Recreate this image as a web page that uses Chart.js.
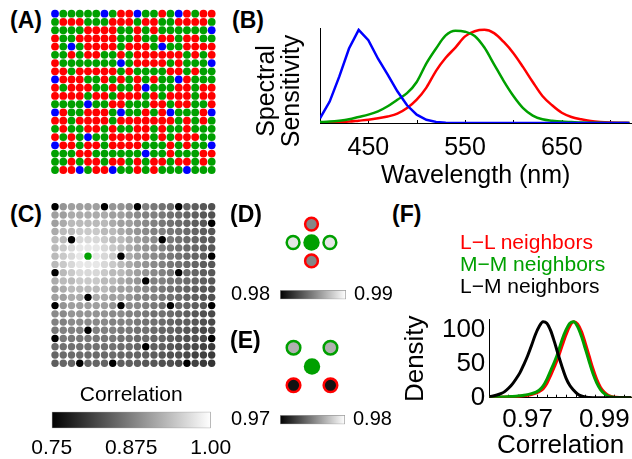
<!DOCTYPE html>
<html>
<head>
<meta charset="utf-8">
<script src="https://cdn.jsdelivr.net/npm/chart.js@4.4.1/dist/chart.umd.min.js"></script>
<style>
  html, body { margin: 0; padding: 0; background: #fff; }
  body { position: relative; width: 632px; height: 459px; overflow: hidden; font-family: 'Liberation Sans', Arial, sans-serif; color: #000; }
  canvas { position: absolute; }
  .panel { position: absolute; font-weight: bold; font-size: 23px; line-height: 23px; white-space: nowrap; }
  #bYTitle { position: absolute; left: 207.5px; top: 66px; width: 140px; height: 50px; font-size: 25px; line-height: 25px; text-align: center; transform: rotate(-90deg); white-space: nowrap; }
  #fLegend { position: absolute; left: 460px; top: 231px; font-size: 21px; line-height: 22px; white-space: nowrap; }
</style>
</head>
<body>
<canvas id="aMosaic" width="176" height="176" style="left:45px; top:4px"></canvas>
<canvas id="bChart" width="345" height="200" style="left:300px; top:0px"></canvas>
<canvas id="cMosaic" width="176" height="176" style="left:45px; top:197px"></canvas>
<canvas id="cBar" width="223" height="79" style="left:20px; top:380px"></canvas>
<canvas id="dDots" width="73" height="73" style="left:275px; top:206px"></canvas>
<canvas id="dBar" width="190" height="53" style="left:225px; top:268px"></canvas>
<canvas id="eDots" width="74" height="75" style="left:275px; top:329px"></canvas>
<canvas id="eBar" width="190" height="53" style="left:225px; top:393px"></canvas>
<canvas id="fChart" width="250" height="159" style="left:395px; top:300px"></canvas>

<div class="panel" style="left:10px; top:8.5px">(A)</div>
<div class="panel" style="left:232px; top:8.5px">(B)</div>
<div class="panel" style="left:10px; top:202.5px">(C)</div>
<div class="panel" style="left:230px; top:202.5px">(D)</div>
<div class="panel" style="left:230px; top:328.5px">(E)</div>
<div class="panel" style="left:392px; top:202.5px">(F)</div>
<div id="bYTitle">Spectral<br>Sensitivity</div>
<div id="fLegend">
  <div style="color:#ff0000">L−L neighbors</div>
  <div style="color:#00a000">M−M neighbors</div>
  <div style="color:#000000">L−M neighbors</div>
</div>

<script>
// cone mosaic (A), L = red, M = green, S = blue
const mosaicRows = [
  'SMMMMMSMLLSMMLMSLMLL',
  'MLLLMMMLLLMLLMMLLLLM',
  'MMMMLLLLMMLMLMMMMMMS',
  'LMMLLLLLMMLMMLLMLLMM',
  'LMSMLLLLMLLLMSMMLLLL',
  'MMLMLLMMLMLLLLLLMLML',
  'LMMMMMMMSMLLLLMLMMMS',
  'LLMLLLLLMLMMMMLLMLMM',
  'SLLLMMLMLMLMLMMSLMMM',
  'LMLLLMMLMMLSMMMLLMLL',
  'LLLLMLLMLLLMLMLLLMLL',
  'MMMMSMMLLMMMLLMLLMML',
  'SLMMLLLMSMMLMLSMMMLS',
  'LLMLLLLMLLLLLLLMLMLM',
  'MLMMLLMLMMLLMLMMLMMM',
  'LMLMSMMLLLLLMLMLLLMM',
  'SLLMLLMLLLLMMMLMLMMS',
  'MMMLLMMMMMMSMMLMMMLL',
  'MMLMLLMLLMLMLLMLLMLM',
  'MLLSMLLSMMLMLMMMSMMM'
];

// spectral sensitivity (B)
const bWavelength = [400, 410, 420, 430, 440, 450, 460, 470, 480, 490, 500, 510, 520, 530, 540, 550, 560,
  570, 580, 590, 600, 610, 620, 630, 640, 650, 660, 670, 680, 690, 700, 710, 720];
const bS = [0.05, 0.23, 0.50, 0.80, 1.00, 0.89, 0.69, 0.52, 0.34, 0.19, 0.09, 0.035, 0.012, 0.004, 0, 0, 0,
  0, 0, 0, 0, 0, 0, 0, 0, 0, 0, 0, 0, 0, 0, 0, 0];
const bM = [0.01, 0.015, 0.025, 0.04, 0.065, 0.09, 0.125, 0.18, 0.25, 0.32, 0.44, 0.64, 0.80, 0.94, 0.99, 0.98, 0.935,
  0.81, 0.63, 0.45, 0.29, 0.16, 0.08, 0.04, 0.025, 0.015, 0.01, 0.005, 0.003, 0.002, 0.001, 0, 0];
const bL = [0.003, 0.005, 0.01, 0.015, 0.025, 0.035, 0.05, 0.07, 0.10, 0.16, 0.25, 0.38, 0.56, 0.70, 0.81, 0.93, 0.985,
  1.0, 0.965, 0.87, 0.75, 0.60, 0.44, 0.29, 0.19, 0.11, 0.065, 0.04, 0.022, 0.012, 0.006, 0.003, 0.001];
const bTickValues = [450, 550, 650];
const bTickMarks = [400, 450, 500, 550, 600, 650, 700];

// correlation map (C): centre cone and correlation by distance (in cones) from it
const centerCone = { row: 6, col: 4 };
const corrByDist = [1.0, 0.976, 0.962, 0.947, 0.932, 0.918, 0.906, 0.895, 0.885, 0.876, 0.868,
  0.861, 0.855, 0.849, 0.842, 0.835, 0.828, 0.821, 0.814, 0.807, 0.801];
const corrRange = [0.75, 1.0];
const corrTicks = [0.75, 0.875, 1.0];
const corrTickLabels = ['0.75', '0.875', '1.00'];

// neighbour examples (D) and (E)
const dNbrX = [0, 0, -1, 1];
const dNbrY = [1, -1, 0, 0];
const dNbrType = ['L', 'L', 'M', 'M'];
const dNbrCorr = [0.9853, 0.9852, 0.9890, 0.9890];
const dRange = [0.98, 0.99];
const dRangeLabels = ['0.98', '0.99'];

const eNbrX = [-1, 1, -1, 1];
const eNbrY = [1, 1, -1, -1];
const eNbrType = ['M', 'M', 'L', 'L'];
const eNbrCorr = [0.9769, 0.9769, 0.9707, 0.9707];
const eRange = [0.97, 0.98];
const eRangeLabels = ['0.97', '0.98'];

// correlation densities (F)
const fCorr = [0.960, 0.961, 0.962, 0.963, 0.964, 0.965, 0.966, 0.967, 0.968, 0.969, 0.970, 0.971, 0.972,
  0.973, 0.974, 0.975, 0.976, 0.977, 0.978, 0.979, 0.980, 0.981, 0.982, 0.983, 0.984, 0.985, 0.986,
  0.987, 0.988, 0.989, 0.990, 0.991, 0.992, 0.993, 0.994, 0.995, 0.996, 0.997];
const fLM = [1.5, 2.5, 4, 6, 9, 14, 20, 28, 37, 49, 62, 77, 93, 105, 112, 110, 99, 82, 63, 45, 29, 18, 11,
  5.5, 2.5, 1, 0.4, 0.1, 0, 0, 0, 0, 0, 0, 0, 0, 0, 0];
const fMM = [0.5, 0.6, 0.8, 1, 1.2, 1.5, 1.8, 2.2, 2.8, 3.5, 4.5, 6, 8, 11, 17, 27, 40, 53, 68, 86, 100, 110,
  112, 105, 91, 73, 54, 36, 22, 12, 6, 2.5, 1, 0.4, 0.1, 0, 0, 0];
const fLL = [0.3, 0.4, 0.5, 0.7, 0.9, 1.1, 1.4, 1.7, 2.2, 2.8, 3.6, 4.8, 6.5, 9, 13, 21, 33, 46, 60, 77, 93, 106,
  112, 109, 98, 81, 62, 43, 27, 15, 8, 3.5, 1.5, 0.6, 0.2, 0, 0, 0];
const fTickValues = [0.97, 0.99];
const fDensityTicks = [0, 50, 100];
const fTickMarks = [0.9625, 0.965, 0.9675, 0.97, 0.9725, 0.975, 0.9775, 0.98, 0.9825, 0.985, 0.9875, 0.99, 0.9925, 0.995];

const coneColors = { L: '#ff0000', M: '#00a000', S: '#0000ff' };

Chart.defaults.font.family = "'Liberation Sans', Arial, sans-serif";
Chart.defaults.color = '#000';
Chart.defaults.animation = false;
Chart.defaults.events = [];
Chart.defaults.plugins.legend.display = false;
Chart.defaults.plugins.tooltip.enabled = false;

// small tick marks pointing up from the x axis
const innerTicks = {
    id: 'innerTicks',
    beforeDatasetsDraw(chart, args, opts) {
        const xs = chart.scales.x;
        const c = chart.ctx;
        c.save();
        c.strokeStyle = '#000';
        c.lineWidth = 1;
        opts.values.forEach(function(v) {
            const px = Math.round(xs.getPixelForValue(v)) + 0.5;
            c.beginPath();
            c.moveTo(px, xs.top);
            c.lineTo(px, xs.top - opts.len);
            c.stroke();
        });
        c.restore();
    }
};

function grayFor(v, lo, hi) {
    const t = Math.max(0, Math.min(1, (v - lo) / (hi - lo)));
    const g = Math.round(255 * t);
    return 'rgb(' + g + ',' + g + ',' + g + ')';
}

function grayGradient(context) {
    const area = context.chart.chartArea;
    if (!area) return '#888';
    const g = context.chart.ctx.createLinearGradient(area.left, 0, area.right, 0);
    g.addColorStop(0, '#000');
    g.addColorStop(1, '#fff');
    return g;
}

function mosaicChart(id, colors, radius, pad) {
    const pts = [];
    for (let r = 0; r < mosaicRows.length; r++) {
        for (let c = 0; c < mosaicRows[r].length; c++) pts.push({ x: c, y: r });
    }
    return new Chart(document.getElementById(id), {
        type: 'scatter',
        data: { datasets: [{ data: pts, pointRadius: radius, pointBorderWidth: 0, pointBackgroundColor: colors, clip: false }] },
        options: {
            responsive: false,
            layout: { padding: pad },
            scales: {
                x: { display: false, min: -0.5, max: mosaicRows[0].length - 0.5 },
                y: { display: false, min: -0.5, max: mosaicRows.length - 0.5, reverse: true }
            }
        }
    });
}

// (A) mosaic
const aColors = [];
mosaicRows.forEach(function(row) {
    for (const t of row) aColors.push(coneColors[t]);
});
mosaicChart('aMosaic', aColors, 3.9, { left: 5.9, top: 5.6, right: 5.2, bottom: 5.9 });

// (C) correlation with the centre M cone
const cColors = [];
mosaicRows.forEach(function(row, r) {
    for (let c = 0; c < row.length; c++) {
        if (r === centerCone.row && c === centerCone.col) {
            cColors.push(coneColors.M);
        } else if (row[c] === 'S') {
            cColors.push('#000');
        } else {
            const d = Math.min(Math.round(Math.hypot(r - centerCone.row, c - centerCone.col)), corrByDist.length - 1);
            cColors.push(grayFor(corrByDist[d], corrRange[0], corrRange[1]));
        }
    }
});
mosaicChart('cMosaic', cColors, 3.7, { left: 5.9, top: 5.6, right: 5.2, bottom: 5.6 });

// (C) colour bar
new Chart(document.getElementById('cBar'), {
    type: 'bar',
    data: {
        labels: ['corr'],
        datasets: [{
            data: [[corrRange[0], corrRange[1]]],
            backgroundColor: grayGradient,
            borderColor: '#9a9a9a',
            borderWidth: 1,
            borderSkipped: false,
            barPercentage: 1,
            categoryPercentage: 1
        }]
    },
    options: {
        indexAxis: 'y',
        responsive: false,
        layout: { padding: { left: 31.7, right: 32.3, top: 5, bottom: 0.5 } },
        plugins: {
            title: { display: true, text: 'Correlation', font: { size: 21, weight: 'normal', lineHeight: 1 }, padding: { top: 0, bottom: 5.7 } }
        },
        scales: {
            x: {
                min: corrRange[0], max: corrRange[1],
                afterBuildTicks: function(s) { s.ticks = corrTicks.map(function(v) { return { value: v }; }); },
                afterFit: function(s) { s.height = 30.2; },
                ticks: {
                    callback: function(v, i) { return corrTickLabels[i]; },
                    font: { size: 21, lineHeight: 1 }, padding: 9.2, maxRotation: 0, autoSkip: false
                },
                grid: { display: false, drawTicks: false },
                border: { display: false }
            },
            y: { display: false }
        }
    }
});

// (D) and (E) neighbour diagrams
function neighbourChart(id, xs, ys, types, corrs, range, nbrRadius, pad) {
    const pts = xs.map(function(x, i) { return { x: x, y: ys[i] }; });
    return new Chart(document.getElementById(id), {
        type: 'scatter',
        data: {
            datasets: [{
                data: pts,
                pointRadius: nbrRadius,
                pointBorderWidth: 2.5,
                pointBorderColor: types.map(function(t) { return coneColors[t]; }),
                pointBackgroundColor: corrs.map(function(v) { return grayFor(v, range[0], range[1]); }),
                clip: false
            }, {
                data: [{ x: 0, y: 0 }],
                pointRadius: 8.2,
                pointBorderWidth: 0,
                pointBackgroundColor: coneColors.M,
                clip: false
            }]
        },
        options: {
            responsive: false,
            layout: { padding: pad },
            scales: {
                x: { display: false, min: -1.5, max: 1.5 },
                y: { display: false, min: -1.5, max: 1.5 }
            }
        }
    });
}
neighbourChart('dDots', dNbrX, dNbrY, dNbrType, dNbrCorr, dRange, 6.4, { left: 5.65, top: 5.25, right: 5.25, bottom: 5.65 });
neighbourChart('eDots', eNbrX, eNbrY, eNbrType, eNbrCorr, eRange, 6.8, { left: 5.2, top: 5.5, right: 5.2, bottom: 5.9 });

// small colour bars with the range written at both ends
function sideColorbar(id, range, labels, pad) {
    return new Chart(document.getElementById(id), {
        type: 'bar',
        data: {
            labels: [labels[0]],
            datasets: [{
                data: [[range[0], range[1]]],
                backgroundColor: grayGradient,
                borderColor: '#9a9a9a',
                borderWidth: 1,
                borderSkipped: false,
                barPercentage: 1,
                categoryPercentage: 1
            }]
        },
        options: {
            indexAxis: 'y',
            responsive: false,
            layout: { padding: pad },
            scales: {
                x: { display: false, min: range[0], max: range[1] },
                y: {
                    position: 'left', offset: true,
                    grid: { display: false, drawTicks: false }, border: { display: false },
                    ticks: { font: { size: 20, lineHeight: 1 }, padding: 10 },
                    afterFit: function(s) { s.width = 50; }
                },
                y2: {
                    type: 'category', labels: [labels[1]], position: 'right', offset: true,
                    grid: { display: false, drawTicks: false }, border: { display: false },
                    ticks: { font: { size: 20, lineHeight: 1 }, padding: 8 },
                    afterFit: function(s) { s.width = 52; }
                }
            }
        }
    });
}
sideColorbar('dBar', dRange, dRangeLabels, { left: 5, right: 17, top: 22, bottom: 21.7 });
sideColorbar('eBar', eRange, eRangeLabels, { left: 5, right: 18, top: 22, bottom: 21.7 });

// (B) spectral sensitivity
function xy(xs, ys) {
    return xs.map(function(x, i) { return { x: x, y: ys[i] }; });
}
new Chart(document.getElementById('bChart'), {
    type: 'line',
    data: {
        datasets: [
            { data: xy(bWavelength, bS), borderColor: coneColors.S, borderWidth: 2.5, pointRadius: 0, tension: 0 },
            { data: xy(bWavelength, bM), borderColor: coneColors.M, borderWidth: 2.5, pointRadius: 0, cubicInterpolationMode: 'monotone' },
            { data: xy(bWavelength, bL), borderColor: coneColors.L, borderWidth: 2.5, pointRadius: 0, cubicInterpolationMode: 'monotone' }
        ]
    },
    options: {
        responsive: false,
        layout: { padding: { left: 20, top: 28, right: 13.6, bottom: 11.5 } },
        plugins: { innerTicks: { values: bTickMarks, len: 3 } },
        scales: {
            x: {
                type: 'linear', min: 400, max: 722,
                afterBuildTicks: function(s) { s.ticks = bTickValues.map(function(v) { return { value: v }; }); },
                afterFit: function(s) { s.height = 65.5; },
                ticks: { font: { size: 25, lineHeight: 1 }, padding: 13, maxRotation: 0, autoSkip: false },
                grid: { display: false, drawTicks: false },
                border: { color: '#000', width: 1 },
                title: { display: true, text: 'Wavelength (nm)', font: { size: 25, lineHeight: 1 }, padding: { top: 2.5, bottom: 0 } }
            },
            y: {
                min: 0, max: 1.02,
                ticks: { display: false },
                grid: { display: false, drawTicks: false },
                border: { color: '#000', width: 1 },
                afterFit: function(s) { s.width = 0; }
            }
        }
    },
    plugins: [innerTicks]
});

// (F) distribution of neighbour correlations
new Chart(document.getElementById('fChart'), {
    type: 'line',
    data: {
        datasets: [
            { data: xy(fCorr, fLM), borderColor: '#000', borderWidth: 3, pointRadius: 0, cubicInterpolationMode: 'monotone' },
            { data: xy(fCorr, fMM), borderColor: coneColors.M, borderWidth: 3, pointRadius: 0, cubicInterpolationMode: 'monotone' },
            { data: xy(fCorr, fLL), borderColor: coneColors.L, borderWidth: 3, pointRadius: 0, cubicInterpolationMode: 'monotone' }
        ]
    },
    options: {
        responsive: false,
        layout: { padding: { left: 5.3, top: 19.8, right: 13, bottom: 0 } },
        plugins: { innerTicks: { values: fTickMarks, len: 3 } },
        scales: {
            x: {
                type: 'linear', min: 0.96, max: 0.9972,
                afterBuildTicks: function(s) { s.ticks = fTickValues.map(function(v) { return { value: v }; }); },
                afterFit: function(s) { s.height = 61.3; },
                ticks: {
                    callback: function(v) { return v.toFixed(2); },
                    font: { size: 26, lineHeight: 1 }, padding: 9.3, maxRotation: 0, autoSkip: false
                },
                grid: { display: false, drawTicks: false },
                border: { color: '#000', width: 1 },
                title: { display: true, text: 'Correlation', font: { size: 26, lineHeight: 1 }, padding: { top: 0, bottom: 0 } }
            },
            y: {
                min: 0, max: 115,
                afterBuildTicks: function(s) { s.ticks = fDensityTicks.map(function(v) { return { value: v }; }); },
                ticks: { font: { size: 26, lineHeight: 1 }, padding: 4 },
                grid: { display: false, drawTicks: false },
                border: { color: '#000', width: 1 },
                title: { display: true, text: 'Density', font: { size: 26, lineHeight: 1 }, padding: { top: 2.7, bottom: 0 } },
                afterFit: function(s) { s.width = 89; }
            }
        }
    },
    plugins: [innerTicks]
});
</script>
</body>
</html>
